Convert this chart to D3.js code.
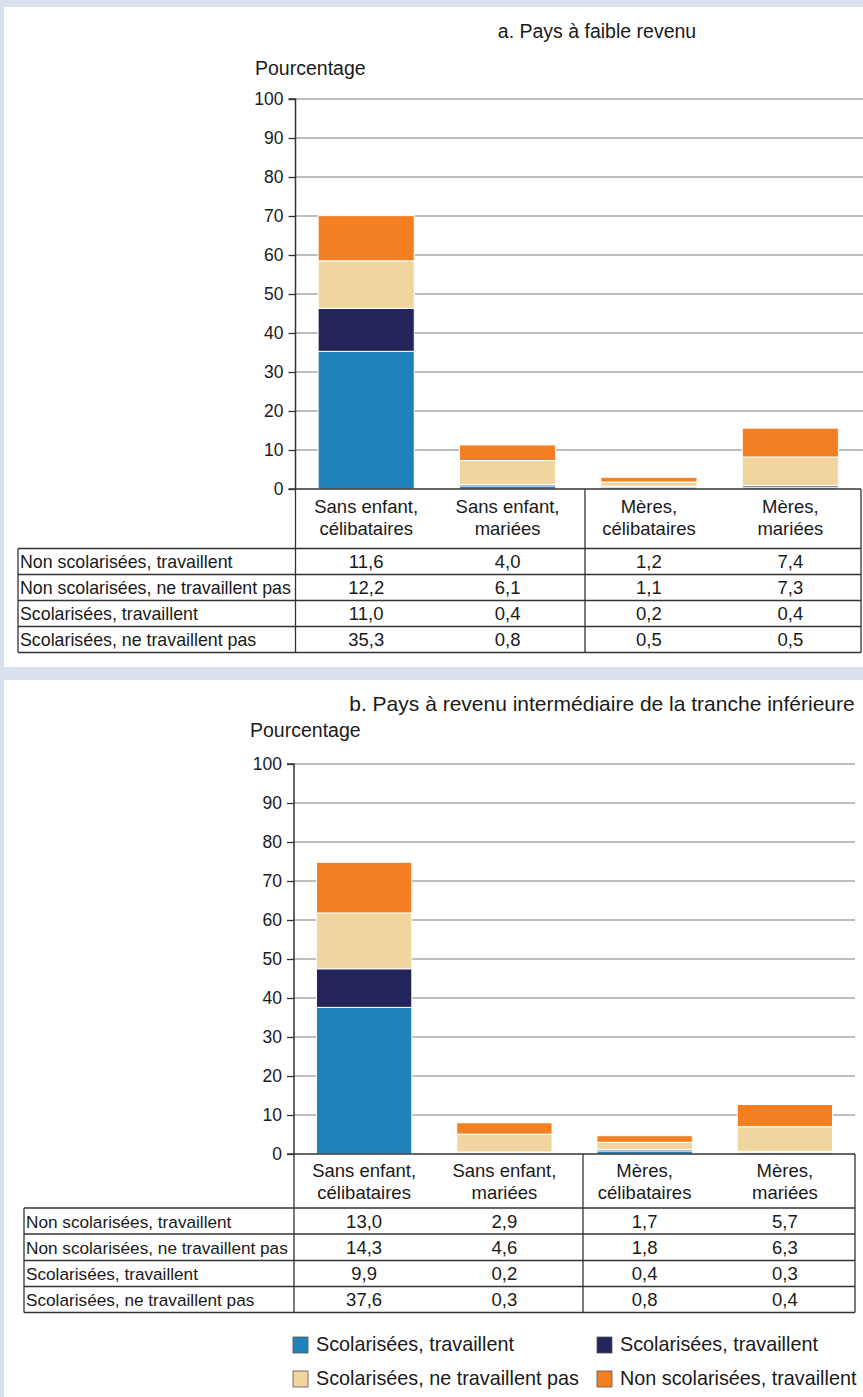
<!DOCTYPE html>
<html><head><meta charset="utf-8">
<script src="https://cdn.jsdelivr.net/npm/d3@7"></script>
<style>
html,body{margin:0;padding:0;background:#d9e1ee;}
svg{display:block;}
text{font-family:"Liberation Sans",Arial,sans-serif;fill:#1a1a1a;}
</style></head>
<body>
<script>
// ---- data ----
const categories = [["Sans enfant,","célibataires"],["Sans enfant,","mariées"],["Mères,","célibataires"],["Mères,","mariées"]];
const seriesNames = ["Scolarisées, ne travaillent pas","Scolarisées, travaillent","Non scolarisées, ne travaillent pas","Non scolarisées, travaillent"]; // stack order bottom->top
const seriesColors = ["#1f82bb","#23245a","#f2d49e","#f47f22"];
const tableRows = ["Non scolarisées, travaillent","Non scolarisées, ne travaillent pas","Scolarisées, travaillent","Scolarisées, ne travaillent pas"];
const tableKeys = [3,2,1,0];
const yTicks = [0,10,20,30,40,50,60,70,80,90,100];
// panel a, per series (stack order)
const lowSNT = [35.3,0.8,0.5,0.5];
const lowST  = [11.0,0.4,0.2,0.4];
const lowNSNT= [12.2,6.1,1.1,7.3];
const lowNST = [11.6,4.0,1.2,7.4];
// panel b
const lmiSNT = [37.6,0.3,0.8,0.4];
const lmiST  = [9.9,0.2,0.4,0.3];
const lmiNSNT= [14.3,4.6,1.8,6.3];
const lmiNST = [13.0,2.9,1.7,5.7];
const legendLabels = ["Scolarisées, travaillent","Scolarisées, travaillent","Scolarisées, ne travaillent pas","Non scolarisées, travaillent"];
const legendColors = ["#1f82bb","#23245a","#f2d49e","#f47f22"];
const fmt = v => v.toFixed(1).replace(".", ",");

const W=863,H=1397;
const svg=d3.select("body").append("svg").attr("width",W).attr("height",H);
svg.append("rect").attr("width",W).attr("height",H).attr("fill","#d9e1ee");

function panel(cfg){
  const g=svg.append("g");
  g.append("rect").attr("x",4).attr("y",cfg.top).attr("width",W-4).attr("height",cfg.bottom-cfg.top).attr("fill","#fff");
  const x=d3.scaleBand().domain(d3.range(categories.length)).range([cfg.left,cfg.right]).paddingInner(0.32).paddingOuter(0.16);
  const y=d3.scaleLinear().domain([0,100]).range([cfg.y0,cfg.y100]);
  // title
  g.append("text").attr("x",cfg.titleX).attr("y",cfg.titleY).attr("text-anchor","middle").style("font-size",cfg.titleSize+"px").text(cfg.title);
  g.append("text").attr("x",cfg.yLabX).attr("y",cfg.yLabY).style("font-size","19.5px").text("Pourcentage");
  // grid
  g.selectAll(".grid").data(yTicks.filter(t=>t>0)).join("line")
    .attr("x1",cfg.left).attr("x2",cfg.gridRight).attr("y1",d=>y(d)).attr("y2",d=>y(d))
    .attr("stroke","#a9a9a9").attr("stroke-width",1.3);
  // bars
  const rows=categories.map((c,i)=>{const o={i};cfg.series.forEach((s,k)=>o[k]=s[i]);return o;});
  const stack=d3.stack().keys(d3.range(cfg.series.length))(rows);
  stack.forEach((layer,k)=>{
    g.selectAll(null).data(layer).join("rect")
      .attr("x",d=>x(d.data.i)).attr("width",x.bandwidth())
      .attr("y",d=>y(d[1])).attr("height",d=>y(d[0])-y(d[1]))
      .attr("fill",seriesColors[k]).attr("stroke","#fff").attr("stroke-width",1);
  });
  // axis
  const ax=g.append("g").attr("transform",`translate(${cfg.left},0)`)
    .call(d3.axisLeft(y).tickValues(yTicks).tickSize(7).tickPadding(5));
  ax.select(".domain").attr("stroke","#333").attr("stroke-width",1.5).attr("d",`M-7,${cfg.y100}H0V${cfg.y0}`);
  ax.selectAll(".tick line").attr("stroke","#333").attr("stroke-width",1.3);
  ax.selectAll(".tick text").style("font-size","17.5px").attr("fill","#1a1a1a").style("font-family","Liberation Sans, Arial, sans-serif");
  // baseline
  g.append("line").attr("x1",cfg.left-7).attr("x2",cfg.right).attr("y1",cfg.y0).attr("y2",cfg.y0).attr("stroke","#333").attr("stroke-width",1.5);
  // table
  const rowY=cfg.rowLines;
  const lc="#333";
  rowY.forEach(ry=>g.append("line").attr("x1",cfg.tableLeft).attr("x2",cfg.right).attr("y1",ry).attr("y2",ry).attr("stroke",lc).attr("stroke-width",1.3));
  g.append("line").attr("x1",cfg.tableLeft).attr("x2",cfg.tableLeft).attr("y1",rowY[0]).attr("y2",rowY[rowY.length-1]).attr("stroke",lc).attr("stroke-width",1.3);
  [cfg.left,cfg.midLine,cfg.right].forEach(vx=>g.append("line").attr("x1",vx).attr("x2",vx).attr("y1",cfg.y0).attr("y2",rowY[rowY.length-1]).attr("stroke",lc).attr("stroke-width",1.3));
  // headers
  categories.forEach((c,i)=>{
    const t=g.append("text").attr("text-anchor","middle").style("font-size","18.5px");
    c.forEach((line,j)=>t.append("tspan").attr("x",x(i)+x.bandwidth()/2).attr("y",cfg.headY+j*22).text(line));
  });
  // rows
  tableRows.forEach((name,r)=>{
    const cy=(rowY[r]+rowY[r+1])/2+6.5;
    g.append("text").attr("x",cfg.tableLeft+2).attr("y",cy).style("font-size",cfg.rowFont+"px").text(name);
    const vals=cfg.series[tableKeys[r]];
    g.selectAll(null).data(vals).join("text").attr("x",(d,i)=>x(i)+x.bandwidth()/2).attr("y",cy)
      .attr("text-anchor","middle").style("font-size","18.5px").text(d=>fmt(d));
  });
}

panel({top:7,bottom:667,left:295.5,right:861,gridRight:863,y0:489,y100:99,
  title:"a. Pays à faible revenu",titleSize:19.5,titleX:597,titleY:38,yLabX:255,yLabY:75,
  series:[lowSNT,lowST,lowNSNT,lowNST],rowLines:[548.5,574.5,600.5,626.5,652.5],midLine:585,tableLeft:18,headY:513,rowFont:17.8});
panel({top:680,bottom:1397,left:294,right:855,gridRight:855,y0:1154,y100:764,
  title:"b. Pays à revenu intermédiaire de la tranche inférieure",titleSize:21,titleX:602,titleY:711,yLabX:250,yLabY:737,
  series:[lmiSNT,lmiST,lmiNSNT,lmiNST],rowLines:[1208,1234,1260.5,1286.5,1312.5],midLine:583,tableLeft:24,headY:1177,rowFont:17.2});

// legend
const leg=svg.append("g");
const legPos=[[293,1337],[597,1337],[293,1371],[597,1371]];
legendLabels.forEach((l,i)=>{
  leg.append("rect").attr("x",legPos[i][0]).attr("y",legPos[i][1]).attr("width",15).attr("height",16)
    .attr("fill",legendColors[i]).attr("stroke","#555").attr("stroke-width",0.8);
  leg.append("text").attr("x",legPos[i][0]+23).attr("y",legPos[i][1]+14).style("font-size","19.8px").text(l);
});
</script>
</body></html>
